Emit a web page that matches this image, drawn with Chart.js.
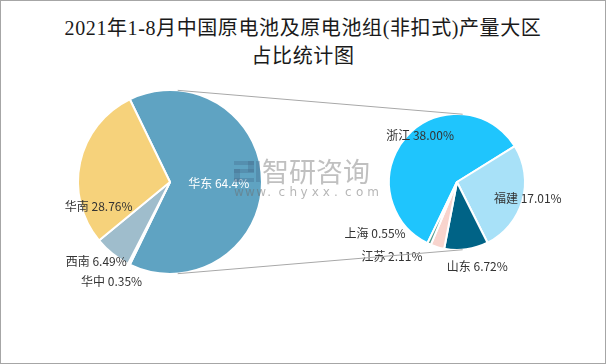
<!DOCTYPE html>
<html><head><meta charset="utf-8">
<script src="https://cdn.jsdelivr.net/npm/chart.js@4.4.0/dist/chart.umd.min.js"></script>
<style>
html,body{margin:0;padding:0;background:#fff;}
#wrap{position:relative;width:606px;height:364px;box-sizing:border-box;border:1px solid #a6a6a6;overflow:hidden;background:#fff;}
#title{position:absolute;left:-1px;top:13px;width:606px;text-align:center;font-family:'Liberation Serif','Noto Sans CJK SC',serif;font-size:20px;font-weight:normal;letter-spacing:0.6px;line-height:28px;color:#1a1a1a;}
canvas{position:absolute;}
</style></head>
<body><div id="wrap">
<div id="title">2021年1-8月中国原电池及原电池组(非扣式)产量大区<br>占比统计图</div>
<canvas id="main" width="340" height="364" style="left:-1px;top:-1px;width:340px;height:364px"></canvas>
<canvas id="sub" width="276" height="364" style="left:329px;top:-1px;width:276px;height:364px"></canvas>
<canvas id="over" width="606" height="364" style="left:-1px;top:-1px;width:606px;height:364px;pointer-events:none"></canvas>
</div>
<script>
// ---- data ----
const mainLabels = ['华东', '华中', '西南', '华南'];
const mainValues = [64.4, 0.35, 6.49, 28.76];
const subLabels = ['浙江', '福建', '山东', '江苏', '上海'];
const subValues = [38.00, 17.01, 6.72, 2.11, 0.55];

// ---- styles ----
const mainColors = ['#5fa3c2', '#3f7f9c', '#9fbdcc', '#f6d27b'];
const subColors = ['#1fc5fd', '#a8e1f8', '#006386', '#f8d4cd', '#4e9c90'];
// label anchor: angle (deg, clockwise from top) and distance in radius units
const mainLabelPos = [[92, 0.53], [210.5, 1.25], [223, 1.175], [251, 0.82]];
const mainLabelColor = ['#ffffff', '#333333', '#333333', '#333333'];
const subLabelPos = [[-38.6, 0.87], [103.3, 1.07], [166.4, 1.27], [221.3, 1.45], [238, 1.42]];
const LABEL_FONT = '12px "Noto Sans CJK SC", sans-serif';

function labelPlugin(labels, values, pos, colors, fmt) {
  return {
    id: 'lbl',
    afterDatasetsDraw(chart) {
      const ctx = chart.ctx;
      const arcs = chart.getDatasetMeta(0).data;
      ctx.save();
      ctx.font = LABEL_FONT;
      ctx.textAlign = 'center';
      ctx.textBaseline = 'middle';
      arcs.forEach((a, i) => {
        const ang = pos[i][0] * Math.PI / 180;
        const d = pos[i][1] * a.outerRadius;
        const x = a.x + d * Math.sin(ang);
        const y = a.y - d * Math.cos(ang);
        ctx.fillStyle = colors[i];
        ctx.fillText(labels[i] + ' ' + fmt(values[i]) + '%', x, y);
      });
      ctx.restore();
    }
  };
}

const charts = {};
function drawOverlay() {
  if (!charts.main || !charts.sub) return;
  const c = document.getElementById('over');
  const ctx = c.getContext('2d');
  ctx.clearRect(0, 0, c.width, c.height);
  const a1 = charts.main.getDatasetMeta(0).data[0];
  const a2 = charts.sub.getDatasetMeta(0).data[0];
  const x1 = a1.x, y1 = a1.y, r1 = a1.outerRadius;
  const x2 = a2.x + 330, y2 = a2.y, r2 = a2.outerRadius;
  const s = (r1 - r2) / (x2 - x1), co = Math.sqrt(1 - s * s);
  ctx.strokeStyle = '#a8a8a8';
  ctx.lineWidth = 1;
  ctx.beginPath();
  ctx.moveTo(x1 + r1 * s, y1 - r1 * co); ctx.lineTo(x2 + r2 * s, y2 - r2 * co);
  ctx.moveTo(x1 + r1 * s, y1 + r1 * co); ctx.lineTo(x2 + r2 * s, y2 + r2 * co);
  ctx.stroke();
  // watermark
  ctx.save();
  ctx.fillStyle = 'rgba(70,105,140,0.35)';
  ctx.fillRect(234, 161, 20, 4);
  ctx.fillRect(248, 161, 6, 11);
  ctx.fillRect(234, 169, 20, 4);
  ctx.fillRect(234, 169, 6, 13);
  ctx.fillRect(234, 178, 20, 4);
  ctx.fillRect(256, 161, 4, 21);
  ctx.fillStyle = 'rgba(140,140,140,0.55)';
  ctx.font = '27px "Noto Sans CJK SC", sans-serif';
  ctx.textBaseline = 'middle';
  ctx.textAlign = 'left';
  ctx.fillText('智研咨询', 262, 172);
  ctx.font = '12px "DejaVu Sans", sans-serif';
  ctx.fillStyle = 'rgba(110,110,110,0.5)';
  const w = 'www.chyxx.com'.split('');
  w.forEach((ch, i) => ctx.fillText(ch, 234 + i * 11.1, 193));
  ctx.restore();
}
const overlayPlugin = { id: 'ov', afterRender() { drawOverlay(); } };

charts.main = new Chart(document.getElementById('main'), {
  type: 'pie',
  data: { labels: mainLabels, datasets: [{ data: mainValues, backgroundColor: mainColors, borderColor: '#ffffff', borderWidth: 2 }] },
  options: {
    responsive: false, animation: false, rotation: -25.92,
    layout: { padding: { top: 89, bottom: 89, left: 77, right: 77 } },
    plugins: { legend: { display: false }, tooltip: { enabled: false } }
  },
  plugins: [labelPlugin(mainLabels, mainValues, mainLabelPos, mainLabelColor, v => String(v)), overlayPlugin]
});
charts.sub = new Chart(document.getElementById('sub'), {
  type: 'pie',
  data: { labels: subLabels, datasets: [{ data: subValues, backgroundColor: subColors, borderColor: '#ffffff', borderWidth: 2 }] },
  options: {
    responsive: false, animation: false, rotation: -154.25,
    layout: { padding: { top: 113, bottom: 113, left: 58, right: 80 } },
    plugins: { legend: { display: false }, tooltip: { enabled: false } }
  },
  plugins: [labelPlugin(subLabels, subValues, subLabelPos, subLabels.map(() => '#333333'), v => v.toFixed(2)), overlayPlugin]
});
drawOverlay();
</script>
</body></html>
